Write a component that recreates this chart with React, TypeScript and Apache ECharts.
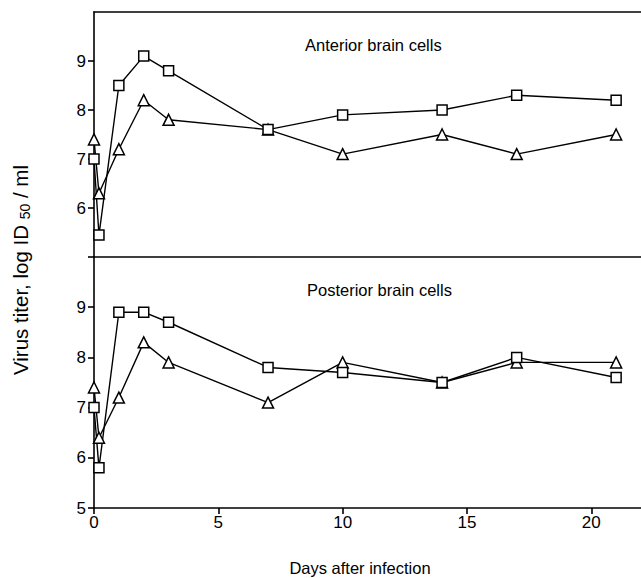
import React, { useEffect, useRef } from "react";
import * as echarts from "echarts";

const days = [0, 0.2, 1, 2, 3, 7, 10, 14, 17, 21];
const anteriorSquare = [7.0, 5.45, 8.5, 9.1, 8.8, 7.6, 7.9, 8.0, 8.3, 8.2];
const anteriorTriangle = [7.4, 6.3, 7.2, 8.2, 7.8, 7.6, 7.1, 7.5, 7.1, 7.5];
const posteriorSquare = [7.0, 5.8, 8.9, 8.9, 8.7, 7.8, 7.7, 7.5, 8.0, 7.6];
const posteriorTriangle = [7.4, 6.4, 7.2, 8.3, 7.9, 7.1, 7.9, 7.5, 7.9, 7.9];
const xTicks = [0, 5, 10, 15, 20];
const topYLabels = [6, 7, 8, 9];
const topYTicks = [5, 6, 7, 8, 9];
const bottomYLabels = [5, 6, 7, 8, 9];
const panelTitles = ["Anterior brain cells", "Posterior brain cells"];
const xTitle = "Days after infection";

const FONT = "Liberation Sans, Arial, Helvetica, sans-serif";

function pairs(ys: number[]) {
  return days.map((d, i) => [d, ys[i]]);
}

export default function App() {
  const ref = useRef<HTMLDivElement>(null);
  useEffect(() => {
    if (!ref.current) return;
    const chart = echarts.init(ref.current, undefined, { renderer: "svg" });
    const axisLine = { show: true, lineStyle: { color: "#000", width: 1.6 } };
    const lineSeries = (name: string, data: number[], xi: number, yi: number, symbol: string, size: number) => ({
      name,
      type: "line",
      xAxisIndex: xi,
      yAxisIndex: yi,
      data: pairs(data),
      symbol,
      symbolSize: size,
      showAllSymbol: true,
      lineStyle: { color: "#000", width: 1.4 },
      itemStyle: { color: "#fff", borderColor: "#000", borderWidth: 1.5 },
      z: 3,
    });
    chart.setOption({
      animation: false,
      backgroundColor: "#fff",
      grid: [
        { left: 94, top: 12, width: 549, height: 245 },
        { left: 94, top: 257, width: 549, height: 251 },
      ],
      xAxis: [
        {
          type: "value", gridIndex: 0, position: "bottom", min: 0, max: 22, interval: 5,
          axisLine, axisTick: { show: false }, axisLabel: { show: false }, splitLine: { show: false },
        },
        {
          type: "value", gridIndex: 0, position: "top", min: 0, max: 22, interval: 5,
          axisLine, axisTick: { show: false }, axisLabel: { show: false }, splitLine: { show: false },
        },
        {
          type: "value", gridIndex: 1, position: "bottom", min: 0, max: 22, interval: 5,
          axisLine,
          axisTick: { show: true, length: 6, inside: false, lineStyle: { color: "#000", width: 1.6 }, customValues: xTicks },
          axisLabel: { color: "#000", fontSize: 17, fontFamily: FONT, margin: 6, customValues: xTicks },
          splitLine: { show: false },
        },
      ],
      yAxis: [
        {
          type: "value", gridIndex: 0, min: 5, max: 10, interval: 1,
          axisLine,
          axisTick: { show: true, length: 6, lineStyle: { color: "#000", width: 1.6 }, customValues: topYTicks },
          axisLabel: { color: "#000", fontSize: 17, fontFamily: FONT, margin: 8, customValues: topYLabels },
          splitLine: { show: false },
        },
        {
          type: "value", gridIndex: 1, min: 5, max: 10, interval: 1,
          axisLine,
          axisTick: { show: true, length: 6, lineStyle: { color: "#000", width: 1.6 }, customValues: bottomYLabels },
          axisLabel: { color: "#000", fontSize: 17, fontFamily: FONT, margin: 8, customValues: bottomYLabels },
          splitLine: { show: false },
        },
      ],
      graphic: [
        {
          type: "text", left: 305, top: 36,
          style: { text: panelTitles[0], font: `16.5px ${FONT}`, fill: "#000" },
        },
        {
          type: "text", left: 307, top: 281,
          style: { text: panelTitles[1], font: `16.5px ${FONT}`, fill: "#000" },
        },
        {
          type: "text", x: 360, y: 568,
          style: { text: xTitle, font: `16.5px ${FONT}`, fill: "#000", align: "center", verticalAlign: "middle" },
        },
        {
          type: "text", x: 20, y: 270, rotation: Math.PI / 2,
          style: {
            text: "{a|Virus titer, log ID }{b|50}{a| / ml}",
            align: "center", verticalAlign: "middle", fill: "#000",
            rich: {
              a: { fontSize: 20.5, fontFamily: FONT, fill: "#000", lineHeight: 24 },
              b: { fontSize: 14, fontFamily: FONT, fill: "#000", verticalAlign: "bottom", lineHeight: 24 },
            },
          },
        },
      ],
      series: [
        lineSeries("Anterior triangle", anteriorTriangle, 0, 0, "triangle", 11),
        lineSeries("Anterior square", anteriorSquare, 0, 0, "rect", 10),
        lineSeries("Posterior triangle", posteriorTriangle, 2, 1, "triangle", 11),
        lineSeries("Posterior square", posteriorSquare, 2, 1, "rect", 10),
      ],
    });
    return () => chart.dispose();
  }, []);
  return <div ref={ref} style={{ position: "absolute", left: 0, top: 0, width: 641, height: 578 }} />;
}
